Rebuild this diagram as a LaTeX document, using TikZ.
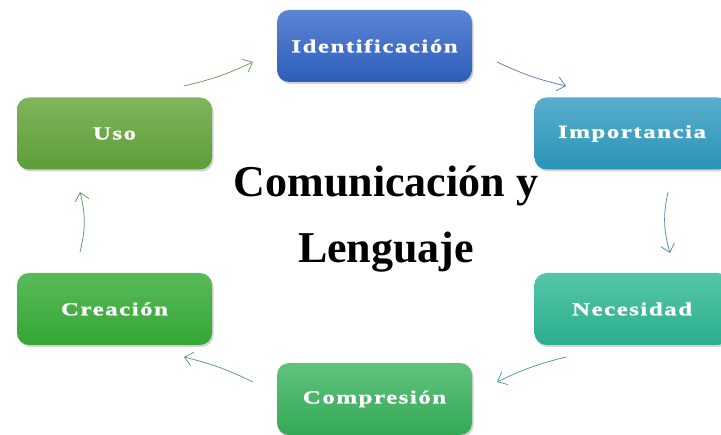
\documentclass[tikz,border=0pt]{standalone}
\usepackage{fontspec}
\setmainfont{Liberation Serif}
\newfontfamily\etapafont[LetterSpace=8,FakeStretch=1.35,FakeBold=1]{Liberation Serif}
\usetikzlibrary{shadows,arrows.meta}

% colores de las etapas
\definecolor{ideA}{HTML}{5C85D3}
\definecolor{ideB}{HTML}{2D5DBB}
\definecolor{impA}{HTML}{5AADCB}
\definecolor{impB}{HTML}{2A94B8}
\definecolor{necA}{HTML}{55C6A8}
\definecolor{necB}{HTML}{2AAE8E}
\definecolor{comA}{HTML}{60C27E}
\definecolor{comB}{HTML}{34A955}
\definecolor{creA}{HTML}{58BA58}
\definecolor{creB}{HTML}{35A636}
\definecolor{usoA}{HTML}{80B55C}
\definecolor{usoB}{HTML}{5C9E38}

\begin{document}
\begin{tikzpicture}[x=1pt, y=-1pt,
  etapa/.style={rounded corners=12pt, minimum width=195pt, minimum height=72pt,
    text=white, font=\etapafont\bfseries\fontsize{18.5}{20}\selectfont,
    drop shadow={opacity=0.35, shadow xshift=1.5pt, shadow yshift=-2pt}},
  flecha/.style={-{Straight Barb[length=8pt,width=14pt]}, line width=0.75pt}]
  \useasboundingbox (0,0) rectangle (721,435);
  \clip (0,0) rectangle (721,435);

  % Etapas del ciclo
  \node[etapa, top color=ideA, bottom color=ideB] (ide) at (374.5,46) {Identificación};
  \node[etapa, top color=impA, bottom color=impB] (imp) at (632,133.5) {Importancia};
  \node[etapa, top color=necA, bottom color=necB] (nec) at (632,309) {Necesidad};
  \node[etapa, top color=comA, bottom color=comB] (com) at (374.5,399) {Compresión};
  \node[etapa, top color=creA, bottom color=creB] (cre) at (114.5,309) {Creación};
  \node[etapa, top color=usoA, bottom color=usoB] (uso) at (114.5,133.5) {Uso};

  % Título central
  \node[font=\bfseries\fontsize{44}{66}\selectfont, align=center] (tema) at (386,219)
    {Comunicación y\\Lenguaje};

  % Extremos de las flechas
  \coordinate (ide-s) at (497,62);  \coordinate (imp-e) at (566,86);
  \coordinate (imp-s) at (668,192); \coordinate (nec-e) at (670,253);
  \coordinate (nec-s) at (566,357); \coordinate (com-e) at (497,382);
  \coordinate (com-s) at (253,382); \coordinate (cre-e) at (184,357);
  \coordinate (cre-s) at (80,252);  \coordinate (uso-e) at (80,192);
  \coordinate (uso-s) at (184,86);  \coordinate (ide-e) at (253,62);

  % Flechas del ciclo
  \draw[flecha, color={rgb,255:red,95;green,122;blue,170}] (ide-s) to[bend right=6] (imp-e);
  \draw[flecha, color={rgb,255:red,74;green,142;blue,168}] (imp-s) to[bend right=14] (nec-e);
  \draw[flecha, color={rgb,255:red,74;green,158;blue,140}] (nec-s) to[bend right=6] (com-e);
  \draw[flecha, color={rgb,255:red,88;green,154;blue,124}] (com-s) to[bend right=6] (cre-e);
  \draw[flecha, color={rgb,255:red,88;green,154;blue,104}] (cre-s) to[bend right=14] (uso-e);
  \draw[flecha, color={rgb,255:red,104;green,158;blue,96}] (uso-s) to[bend right=6] (ide-e);
\end{tikzpicture}
\end{document}
